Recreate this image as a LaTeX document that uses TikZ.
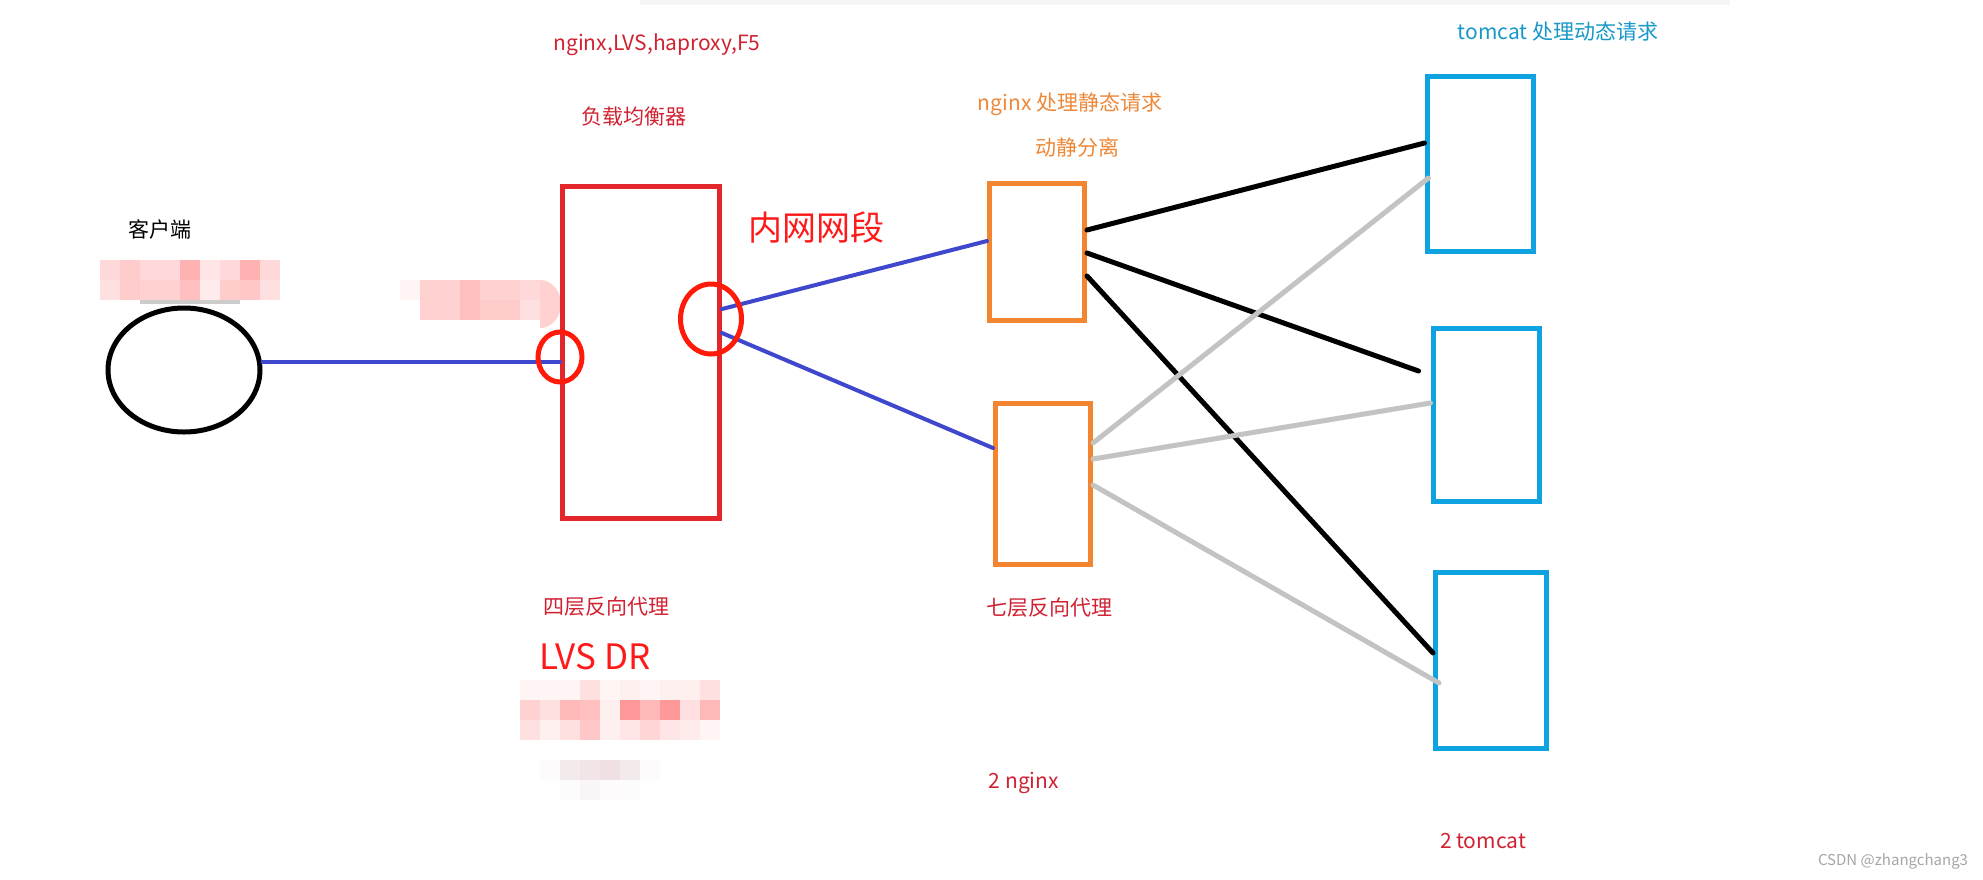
\documentclass[tikz,border=0pt]{standalone}
\usepackage{fontspec}
\setmainfont{Noto Sans CJK SC}
\usetikzlibrary{shapes.geometric}

\definecolor{lbred}{HTML}{E3262C}
\definecolor{ringred}{HTML}{FF1A0A}
\definecolor{textred}{HTML}{D02232}
\definecolor{hotred}{HTML}{FF1A1A}
\definecolor{linkblue}{HTML}{3F48CC}
\definecolor{ngorange}{HTML}{F38530}
\definecolor{ngtext}{HTML}{EE8838}
\definecolor{tccyan}{HTML}{0EA2E0}
\definecolor{tctext}{HTML}{1898C8}
\definecolor{lgray}{HTML}{C3C3C3}
\definecolor{mauve}{HTML}{B07080}

\begin{document}
\begin{tikzpicture}[x=1pt,y=-1pt,
  box/.style={draw,rectangle,inner sep=0pt,line width=5pt},
  ring/.style={draw=ringred,ellipse,inner sep=0pt,line width=5pt},
  link/.style={draw=linkblue,line width=4pt,line cap=round},
  hard/.style={draw=black,line width=5pt,line cap=round},
  soft/.style={draw=lgray,line width=5pt,line cap=round},
  lbl/.style={font=\fontsize{21pt}{24pt}\selectfont,inner sep=0pt}]
\useasboundingbox (0,0) rectangle (1983,879);
\fill[white] (0,0) rectangle (1983,879);
\fill[gray!8] (640,0) rectangle (1730,5);

% pixelated blurs
\foreach \v [count=\i from 0] in {15,20,15,15,30,10,15,30,15}
  \fill[red!\v!white] (100+\i*20,260) rectangle ++(20,20);
\foreach \v [count=\i from 0] in {12,20,18,18,25,8,20,22,12}
  \fill[red!\v!white] (100+\i*20,280) rectangle ++(20,20);
\fill[gray!40] (140,300) rectangle (240,304);
\foreach \v [count=\i from 0] in {4,18,18,25,18,18,15}
  \fill[red!\v!white] (400+\i*20,280) rectangle ++(20,20);
\foreach \v [count=\i from 0] in {0,18,18,25,20,20,12}
  \fill[red!\v!white] (400+\i*20,300) rectangle ++(20,20);
\fill[red!18!white] (540,280) arc[start angle=-90,end angle=90,x radius=21,y radius=24] -- cycle;
\foreach \v [count=\i from 0] in {4,4,4,12,4,6,4,6,6,12}
  \fill[red!\v!white] (520+\i*20,680) rectangle ++(20,20);
\foreach \v [count=\i from 0] in {18,12,28,25,6,40,28,40,12,28}
  \fill[red!\v!white] (520+\i*20,700) rectangle ++(20,20);
\foreach \v [count=\i from 0] in {12,6,12,22,6,10,16,10,8,4}
  \fill[red!\v!white] (520+\i*20,720) rectangle ++(20,20);
\foreach \v [count=\i from 0] in {3,15,18,22,15,3}
  \fill[mauve!\v!white] (540+\i*20,760) rectangle ++(20,20);
\foreach \v [count=\i from 0] in {0,2,6,3,2,0}
  \fill[mauve!\v!white] (540+\i*20,780) rectangle ++(20,20);

% nodes
\node[draw=black,ellipse,line width=5pt,minimum width=152pt,minimum height=124pt] (client) at (184,370) {};
\node[box,draw=lbred,minimum width=157pt,minimum height=332pt] (lb) at (641,352) {};
\node[box,draw=ngorange,minimum width=95pt,minimum height=137pt] (ngA) at (1037,252) {};
\node[box,draw=ngorange,minimum width=95pt,minimum height=161pt] (ngB) at (1043,484) {};
\node[box,draw=tccyan,minimum width=106pt,minimum height=175pt] (tcA) at (1480,164) {};
\node[box,draw=tccyan,minimum width=106pt,minimum height=173pt] (tcB) at (1486,415) {};
\node[box,draw=tccyan,minimum width=111pt,minimum height=176pt] (tcC) at (1491,660) {};

% links
\draw[link] ([yshift=8pt]client.east) -- ([yshift=-10pt]lb.west);
\draw[link] ([yshift=43pt]lb.east) -- ([yshift=11pt]ngA.west);
\draw[link] ([yshift=19pt]lb.east) -- ([yshift=36pt]ngB.west);
\draw[hard] ([yshift=22pt]ngA.east) -- ([yshift=21pt]tcA.west);
\draw[hard] ([yshift=-1pt]ngA.east) -- ([xshift=-12pt,yshift=44pt]tcB.west);
\draw[hard] ([yshift=-24pt]ngA.east) -- ([yshift=7pt]tcC.west);
\draw[soft] ([yshift=41pt]ngB.east) -- ([xshift=4pt,yshift=-14pt]tcA.west);
\draw[soft] ([yshift=25pt]ngB.east) -- ([yshift=12pt]tcB.west);
\draw[soft] ([yshift=-1pt]ngB.east) -- ([xshift=6pt,yshift=-23pt]tcC.west);

% ports
\node[ring,minimum width=44pt,minimum height=50pt] (portIn) at (560,357) {};
\node[ring,minimum width=61pt,minimum height=70pt] (portOut) at (711,319) {};

% labels
\node[lbl] (clientLbl) at (160,229) {客户端};
\node[lbl,text=textred] (lbKinds) at (657,45) {nginx,LVS,haproxy,F5};
\node[lbl,text=textred] (lbName) at (634,117) {负载均衡器};
\node[font=\fontsize{34pt}{38pt}\selectfont,inner sep=0pt,text=hotred] (lanLbl) at (816,228) {内网网段};
\node[lbl,text=ngtext] (ngRole) at (1070,104) {nginx 处理静态请求};
\node[lbl,text=ngtext] (ngSplit) at (1077,147) {动静分离};
\node[lbl,text=tctext] (tcRole) at (1558,31) {tomcat 处理动态请求};
\node[lbl,text=textred] (l4Lbl) at (606,607) {四层反向代理};
\node[font=\fontsize{35pt}{40pt}\selectfont,inner sep=0pt,text=hotred] (drLbl) at (595,657) {LVS DR};
\node[lbl,text=textred] (l7Lbl) at (1049,608) {七层反向代理};
\node[lbl,text=textred] (ngCount) at (1024,783) {2 nginx};
\node[lbl,text=textred] (tcCount) at (1483,841) {2 tomcat};
\node[font=\fontsize{15pt}{18pt}\selectfont,inner sep=0pt,text=gray!70] (mark) at (1893,861) {CSDN @zhangchang3};
\end{tikzpicture}
\end{document}
